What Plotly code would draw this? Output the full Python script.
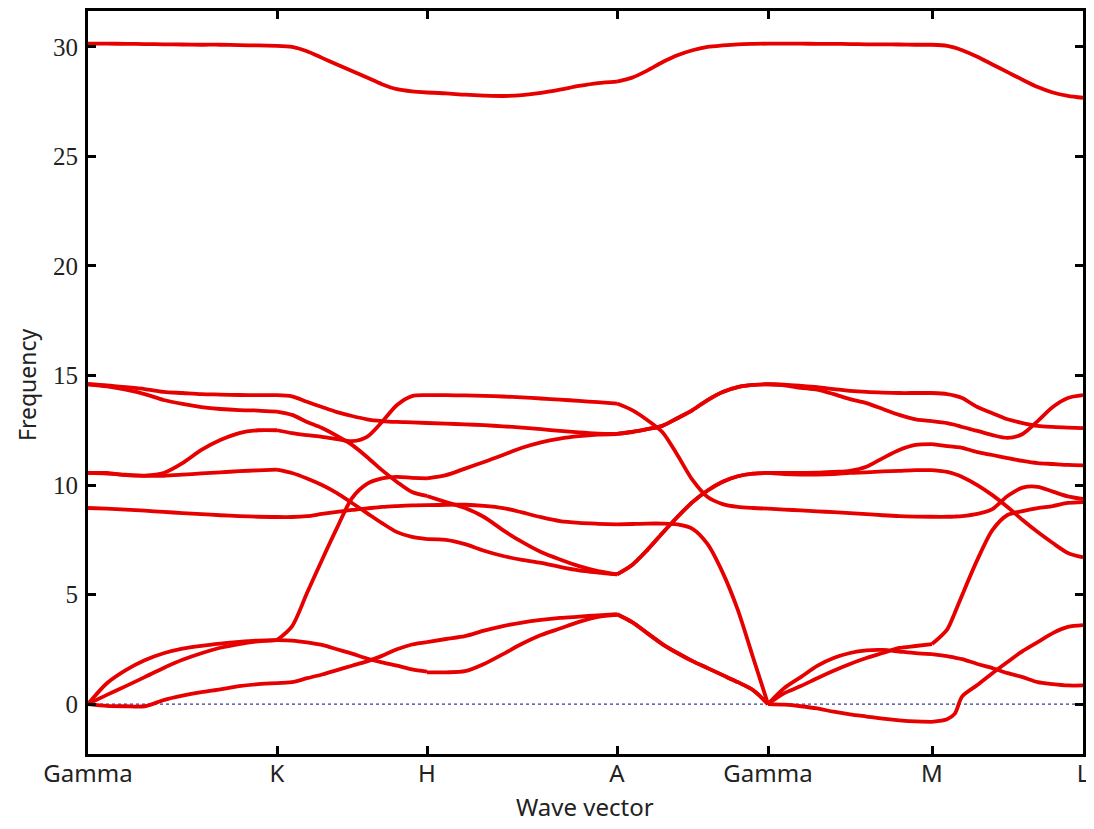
import numpy as np
import plotly.graph_objects as go

# High-symmetry points (path distance) and labels
hs_pos = [0.0, 1.89, 3.39, 5.29, 6.80, 8.44, 9.95]
hs_labels = ["Gamma", "K", "H", "A", "Gamma", "M", "L"]

frac11 = [0.0, 0.1, 0.2, 0.3, 0.4, 0.5, 0.6, 0.7, 0.8, 0.9, 1.0]
frac12 = [0.0, 0.1, 0.15, 0.2, 0.3, 0.4, 0.5, 0.6, 0.7, 0.8, 0.9, 1.0]

# Gamma -> K
seg_GK = [
    [30.15, 30.15, 30.14, 30.13, 30.12, 30.11, 30.10, 30.10, 30.08, 30.07, 30.05],
    [14.60, 14.55, 14.47, 14.38, 14.25, 14.20, 14.15, 14.13, 14.11, 14.10, 14.10],
    [14.60, 14.50, 14.35, 14.15, 13.88, 13.70, 13.56, 13.47, 13.42, 13.40, 13.35],
    [10.55, 10.55, 10.45, 10.43, 10.55, 11.00, 11.60, 12.05, 12.37, 12.50, 12.50],
    [10.55, 10.52, 10.47, 10.42, 10.42, 10.47, 10.53, 10.58, 10.63, 10.67, 10.70],
    [8.95, 8.92, 8.88, 8.83, 8.77, 8.72, 8.67, 8.62, 8.58, 8.55, 8.54],
    [0.00, 0.95, 1.55, 2.00, 2.32, 2.53, 2.66, 2.76, 2.84, 2.90, 2.92],
    [0.00, 0.42, 0.82, 1.23, 1.65, 2.02, 2.32, 2.57, 2.74, 2.86, 2.92],
    [0.00, -0.08, -0.10, -0.10, 0.18, 0.38, 0.54, 0.67, 0.82, 0.91, 0.96],
]
# K -> H
seg_KH = [
    [30.05, 30.00, 29.80, 29.50, 29.20, 28.90, 28.60, 28.30, 28.07, 27.97, 27.92],
    [14.10, 14.05, 13.80, 13.56, 13.33, 13.15, 13.00, 12.92, 12.88, 12.86, 12.83],
    [13.35, 13.20, 12.88, 12.60, 12.24, 11.83, 11.28, 10.68, 10.14, 9.68, 9.50],
    [12.50, 12.37, 12.28, 12.20, 12.10, 12.00, 12.20, 12.88, 13.65, 14.06, 14.10],
    [10.70, 10.55, 10.30, 10.00, 9.63, 9.18, 8.72, 8.26, 7.85, 7.63, 7.53],
    [8.54, 8.54, 8.58, 8.68, 8.77, 8.86, 8.93, 9.00, 9.04, 9.07, 9.08],
    [2.92, 3.55, 5.07, 6.58, 8.04, 9.40, 10.05, 10.30, 10.37, 10.33, 10.30],
    [2.92, 2.90, 2.82, 2.70, 2.50, 2.30, 2.08, 1.90, 1.75, 1.58, 1.48],
    [0.96, 1.00, 1.18, 1.35, 1.55, 1.75, 1.95, 2.20, 2.50, 2.72, 2.83],
]
# H -> A
seg_HA = [
    [27.92, 27.88, 27.82, 27.78, 27.76, 27.80, 27.90, 28.05, 28.22, 28.35, 28.42],
    [14.10, 14.10, 14.09, 14.07, 14.04, 14.00, 13.95, 13.90, 13.84, 13.78, 13.72],
    [12.83, 12.80, 12.77, 12.73, 12.68, 12.62, 12.55, 12.47, 12.40, 12.35, 12.33],
    [10.30, 10.45, 10.75, 11.05, 11.37, 11.70, 11.95, 12.12, 12.23, 12.30, 12.33],
    [9.08, 9.10, 9.10, 9.05, 8.95, 8.75, 8.53, 8.35, 8.27, 8.23, 8.20],
    [9.50, 9.22, 8.95, 8.54, 7.94, 7.40, 6.94, 6.60, 6.30, 6.07, 5.92],
    [7.53, 7.50, 7.30, 7.00, 6.76, 6.58, 6.44, 6.26, 6.10, 6.00, 5.92],
    [2.83, 2.97, 3.10, 3.35, 3.56, 3.72, 3.84, 3.93, 3.99, 4.05, 4.10],
    [1.45, 1.45, 1.50, 1.83, 2.28, 2.75, 3.15, 3.45, 3.75, 3.98, 4.07],
]
# A -> Gamma
seg_AG = [
    [28.42, 28.60, 28.92, 29.30, 29.62, 29.85, 30.00, 30.07, 30.12, 30.14, 30.15],
    [13.72, 13.42, 12.97, 12.42, 11.37, 10.23, 9.45, 9.13, 9.00, 8.95, 8.92],
    [12.33, 12.42, 12.55, 12.70, 13.05, 13.42, 13.88, 14.25, 14.47, 14.57, 14.60],
    [12.33, 12.42, 12.55, 12.70, 13.05, 13.42, 13.88, 14.25, 14.47, 14.57, 14.60],
    [8.20, 8.22, 8.24, 8.24, 8.20, 8.00, 7.30, 6.00, 4.30, 2.15, 0.00],
    [5.92, 6.35, 7.03, 7.80, 8.54, 9.22, 9.75, 10.15, 10.40, 10.52, 10.55],
    [5.92, 6.35, 7.03, 7.80, 8.54, 9.22, 9.75, 10.15, 10.40, 10.52, 10.55],
    [4.10, 3.74, 3.24, 2.74, 2.33, 1.96, 1.64, 1.32, 1.00, 0.64, 0.00],
    [4.10, 3.74, 3.24, 2.74, 2.33, 1.96, 1.64, 1.32, 1.00, 0.64, 0.00],
]
# Gamma -> M
seg_GM = [
    [30.15, 30.15, 30.15, 30.14, 30.14, 30.13, 30.12, 30.12, 30.11, 30.10, 30.10],
    [14.60, 14.58, 14.53, 14.47, 14.38, 14.30, 14.25, 14.22, 14.20, 14.20, 14.20],
    [14.60, 14.55, 14.44, 14.35, 14.15, 13.92, 13.74, 13.47, 13.20, 13.00, 12.92],
    [10.55, 10.55, 10.55, 10.56, 10.60, 10.65, 10.83, 11.23, 11.60, 11.83, 11.87],
    [10.55, 10.50, 10.48, 10.48, 10.50, 10.55, 10.58, 10.62, 10.65, 10.68, 10.68],
    [8.92, 8.88, 8.84, 8.80, 8.76, 8.72, 8.67, 8.62, 8.58, 8.56, 8.55],
    [0.00, 0.50, 0.82, 1.18, 1.52, 1.83, 2.10, 2.33, 2.56, 2.65, 2.74],
    [0.00, 0.73, 1.23, 1.74, 2.10, 2.33, 2.45, 2.47, 2.40, 2.33, 2.28],
    [0.00, -0.03, -0.10, -0.20, -0.35, -0.47, -0.57, -0.67, -0.74, -0.79, -0.81],
]
# M -> L
seg_ML = [
    [30.10, 30.05, 29.97, 29.85, 29.55, 29.20, 28.85, 28.50, 28.17, 27.92, 27.77, 27.68],
    [14.20, 14.15, 14.08, 13.97, 13.56, 13.28, 13.00, 12.83, 12.70, 12.65, 12.62, 12.60],
    [12.92, 12.83, 12.75, 12.65, 12.47, 12.28, 12.15, 12.33, 12.92, 13.56, 13.97, 14.10],
    [11.87, 11.78, 11.74, 11.70, 11.50, 11.37, 11.23, 11.10, 11.00, 10.96, 10.92, 10.90],
    [10.68, 10.60, 10.50, 10.37, 10.00, 9.54, 9.00, 8.40, 7.85, 7.35, 6.90, 6.70],
    [8.55, 8.55, 8.56, 8.58, 8.68, 8.90, 9.50, 9.88, 9.92, 9.70, 9.48, 9.36],
    [2.74, 3.40, 4.15, 4.98, 6.58, 7.94, 8.63, 8.81, 8.95, 9.04, 9.18, 9.22],
    [2.28, 2.19, 2.12, 2.05, 1.83, 1.64, 1.41, 1.23, 1.00, 0.91, 0.85, 0.85],
    [-0.81, -0.69, -0.45, 0.35, 0.87, 1.41, 1.92, 2.42, 2.83, 3.24, 3.52, 3.60],
]

segments = [
    (seg_GK, frac11), (seg_KH, frac11), (seg_HA, frac11),
    (seg_AG, frac11), (seg_GM, frac11), (seg_ML, frac12),
]

RED = "#e60000"
fig = go.Figure()

# zero line (dotted blue)
fig.add_trace(go.Scatter(
    x=[hs_pos[0], hs_pos[-1]], y=[0, 0], mode="lines",
    line=dict(color="#3a3a9a", width=1.2, dash="dot"),
    showlegend=False, hoverinfo="skip"))

for i, (bands, fr) in enumerate(segments):
    q0, q1 = hs_pos[i], hs_pos[i + 1]
    q = [q0 + f * (q1 - q0) for f in fr]
    for band in bands:
        fig.add_trace(go.Scatter(
            x=q, y=band, mode="lines",
            line=dict(color=RED, width=3.8, shape="spline", smoothing=0.8),
            showlegend=False))

axis_common = dict(
    showline=True, linecolor="black", linewidth=3, mirror="ticks",
    ticks="inside", ticklen=8, tickwidth=3, tickcolor="black",
    showgrid=False, zeroline=False, automargin=False,
)

fig.update_xaxes(
    range=[hs_pos[0], hs_pos[-1]],
    tickmode="array", tickvals=hs_pos, ticktext=hs_labels,
    tickfont=dict(family="Noto Sans", size=24, color="#222222"),
    ticklabelstandoff=-4,
    **axis_common)
fig.update_yaxes(
    range=[-2.28, 31.64],
    tickmode="array", tickvals=[0, 5, 10, 15, 20, 25, 30],
    ticktext=["0", "5", "10", "15", "20", "25", "30"],
    tickfont=dict(family="Liberation Serif", size=25, color="#222222"),
    ticklabelstandoff=2,
    **axis_common)

fig.add_annotation(text="Wave vector", xref="paper", yref="paper",
                   x=0.4995, y=-0.07, xanchor="center", yanchor="middle",
                   showarrow=False,
                   font=dict(family="Noto Sans", size=24, color="#222222"))
fig.add_annotation(text="Frequency", xref="paper", yref="paper",
                   x=-0.0613, y=0.4966, xanchor="center", yanchor="middle",
                   textangle=-90, showarrow=False,
                   font=dict(family="Noto Sans", size=23, color="#222222"))

# the page body adds an 8px offset; size the figure to fit the 1094x829 window
fig.update_layout(
    width=1086, height=821,
    margin=dict(l=80, r=11, t=3, b=75),
    plot_bgcolor="white", paper_bgcolor="white",
)

fig.write_html("out.html")
